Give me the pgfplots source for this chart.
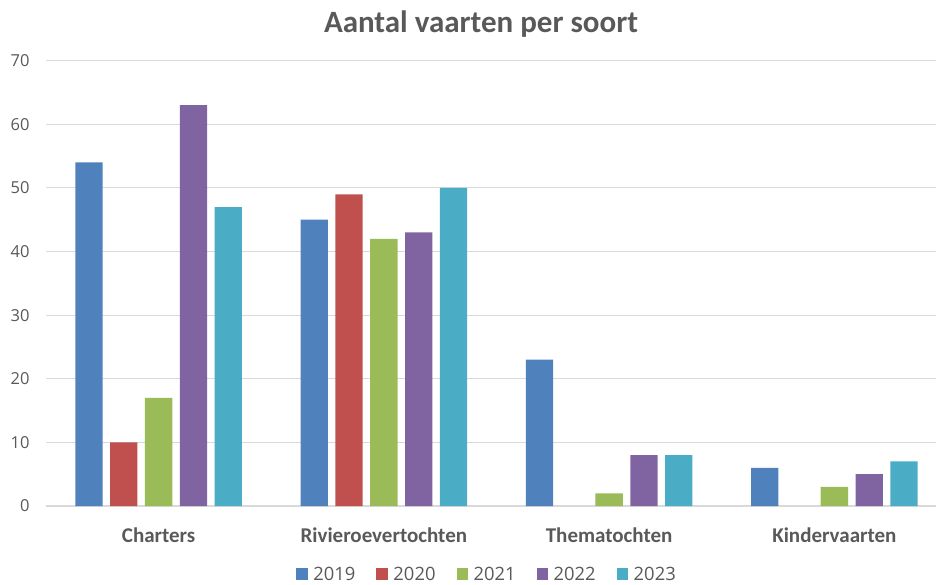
\documentclass[border=0pt]{standalone}
\usepackage{fontspec}
\setmainfont{Carlito}
\newfontfamily\tickfont{Open Sans}
\usepackage{pgfplots}
\pgfplotsset{compat=1.18}
\definecolor{c1}{HTML}{4F81BD}
\definecolor{c2}{HTML}{C0504D}
\definecolor{c3}{HTML}{9BBB59}
\definecolor{c4}{HTML}{8064A2}
\definecolor{c5}{HTML}{4BACC6}
\definecolor{gridcol}{HTML}{D9D9D9}
\definecolor{txtcol}{HTML}{595959}
\begin{document}
\begin{tikzpicture}[x=1pt,y=1pt]
\useasboundingbox (0,0) rectangle (936,584);
\node[font=\bfseries\fontsize{31}{31}\selectfont, text=txtcol] at (481,560) {Aantal vaarten per soort};
\begin{axis}[
  at={(46pt,78pt)}, anchor=south west,
  scale only axis, width=901pt, height=445.3pt,
  ymin=0, ymax=70, ytick={0,10,...,70},
  xmin=-0.5, xmax=3.5, xtick={0,1,2,3},
  xticklabels={Charters,Rivieroevertochten,Thematochten,Kindervaarten},
  ybar=7.5pt, bar width=27.3pt,
  axis x line*=bottom, axis y line*=left,
  y axis line style={draw=none},
  x axis line style={draw=gridcol, line width=1.3pt, -},
  major tick length=0pt,
  ymajorgrids, grid style={draw=gridcol, line width=1pt},
  /pgf/number format/assume math mode=true,
  yticklabel style={font=\tickfont\fontsize{16.5}{16.5}\selectfont, text=txtcol, xshift=-13pt},
  xticklabel style={font=\bfseries\fontsize{21}{21}\selectfont, text=txtcol, yshift=-18pt},
  legend style={at={(0.489,-0.153)}, anchor=center, draw=none, fill=none,
    legend columns=5, font=\tickfont\fontsize{18.4}{18.4}\selectfont, text=txtcol,
    nodes={inner sep=1pt},
    /tikz/every even column/.append style={column sep=20pt}},
  legend image code/.code={\fill[#1] (0pt,-5.85pt) rectangle (11.7pt,5.85pt); \path (16pt,0pt);},
]
\addplot[fill=c1, draw=none] coordinates {(0,54) (1,45) (2,23) (3,6)};
\addplot[fill=c2, draw=none] coordinates {(0,10) (1,49)};
\addplot[fill=c3, draw=none] coordinates {(0,17) (1,42) (2,2) (3,3)};
\addplot[fill=c4, draw=none] coordinates {(0,63) (1,43) (2,8) (3,5)};
\addplot[fill=c5, draw=none] coordinates {(0,47) (1,50) (2,8) (3,7)};
\legend{2019,2020,2021,2022,2023}
\end{axis}
\end{tikzpicture}
\end{document}
